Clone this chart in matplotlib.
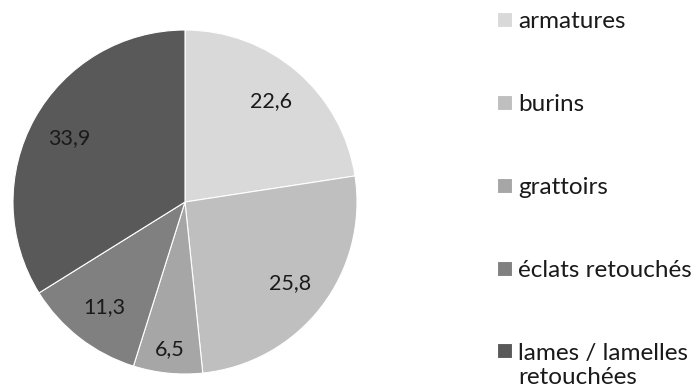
import matplotlib.pyplot as plt
from matplotlib.patches import Rectangle
from matplotlib.legend_handler import HandlerPatch

categories = ["armatures", "burins", "grattoirs", "éclats retouchés", "lames / lamelles\nretouchées"]
values = [22.6, 25.8, 6.5, 11.3, 33.9]
colors = ["#d9d9d9", "#bfbfbf", "#a6a6a6", "#808080", "#595959"]

plt.rcParams['font.family'] = ['Lato', 'DejaVu Sans']

fig = plt.figure(figsize=(6.95, 3.9), dpi=100)
# pie centre at about (185, 202) px, radius 172 px
ax = fig.add_axes([13 / 695, 16 / 390, 344 / 695, 344 / 390])

total = sum(values)
wedges, texts, autotexts = ax.pie(
    values, colors=colors, startangle=90, counterclock=False,
    wedgeprops=dict(edgecolor='white', linewidth=0.8),
    autopct=lambda p: f"{p * total / 100:.1f}".replace('.', ','),
    pctdistance=0.77, textprops=dict(fontsize=15.5, color='#1a1a1a'))

# the small slice label sits further out, like Excel's best fit
x, y = autotexts[2].get_position()
autotexts[2].set_position((x * 0.86 / 0.77, y * 0.86 / 0.77))

ax.set_xlim(-1, 1)
ax.set_ylim(-1, 1)
ax.set_aspect('equal')


# square next to the first line of a two-line label
def top_square(legend, orig_handle, xdescent, ydescent, width, height, fontsize):
    return Rectangle((-xdescent, -ydescent + 0.62 * fontsize), width, height)


fig.legend(wedges, categories, loc='upper left', bbox_to_anchor=(497 / 695, 1 - 11 / 390),
           frameon=False, fontsize=17.5, labelspacing=2.55, handlelength=0.6,
           handleheight=0.6, handletextpad=0.28, borderpad=0, borderaxespad=0,
           labelcolor='#1a1a1a',
           handler_map={wedges[4]: HandlerPatch(patch_func=top_square)})

fig.savefig('out.png', dpi=100)
